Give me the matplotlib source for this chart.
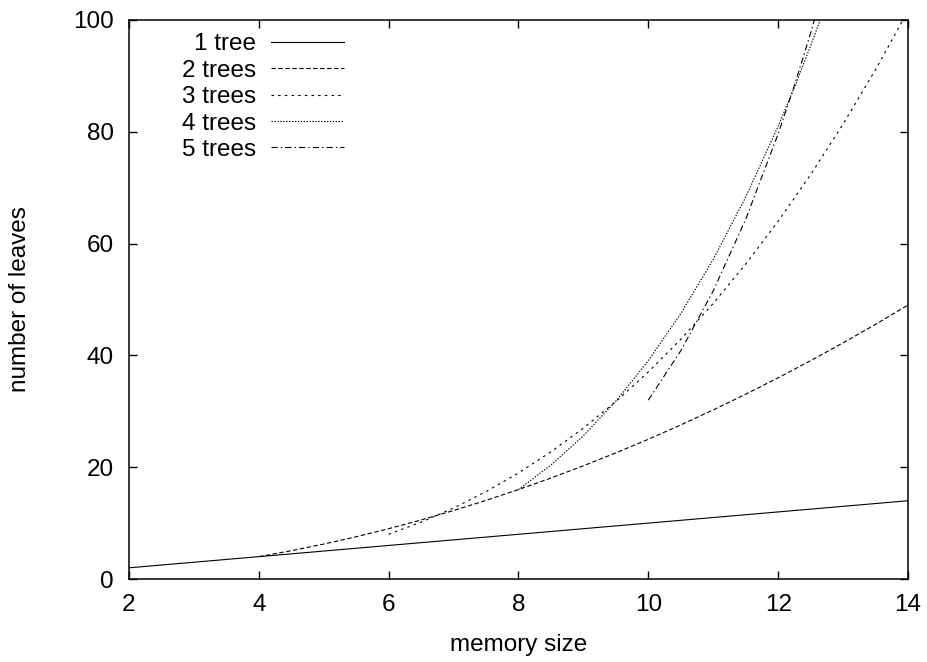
import matplotlib
matplotlib.use("Agg")
import matplotlib.pyplot as plt

plt.rcParams["font.family"] = ["Liberation Sans", "DejaVu Sans"]
plt.rcParams["lines.scale_dashes"] = False

# values
x1 = [2, 14]
y1 = [2, 14]

x2 = [4, 4.5, 5, 5.5, 6, 6.5, 7, 7.5, 8, 8.5, 9, 9.5, 10, 10.5, 11, 11.5, 12, 12.5, 13, 13.5, 14]
y2 = [4, 5.06, 6.25, 7.56, 9, 10.56, 12.25, 14.06, 16, 18.06, 20.25, 22.56, 25, 27.56,
      30.25, 33.06, 36, 39.06, 42.25, 45.56, 49]

x3 = [6, 6.5, 7, 7.5, 8, 8.5, 9, 9.5, 10, 10.5, 11, 11.5, 12, 12.5, 13, 13.5, 14]
y3 = [8, 10.17, 12.70, 15.63, 18.96, 22.75, 27, 31.75, 37.04, 42.88, 49.30, 56.33,
      64, 72.34, 81.37, 91.13, 101.63]

x4 = [8, 8.5, 9, 9.5, 10, 10.5, 11, 11.5, 12, 12.25, 12.5, 12.75, 13]
y4 = [16, 20.39, 25.63, 31.82, 39.06, 47.48, 57.19, 68.32, 81, 87.96, 95.37, 103.25, 111.57]

x5 = [10, 10.5, 11, 11.5, 12, 12.25, 12.5, 12.75, 13]
y5 = [32, 40.84, 51.54, 64.36, 79.63, 88.27, 97.66, 107.85, 118.81]

labels = ["1 tree", "2 trees", "3 trees", "4 trees", "5 trees"]
series = [(x1, y1), (x2, y2), (x3, y3), (x4, y4), (x5, y5)]
styles = ["-", (0, (3.2, 1.8)), (0, (1.8, 3.0)), (0, (1.0, 1.1)), (0, (4.5, 2.2, 1.0, 2.2))]

fs = 17.5

fig = plt.figure(figsize=(9.28, 6.62), dpi=100)
ax = fig.add_axes([129 / 928, 1 - 579 / 662, 779 / 928, 559 / 662])

for (xs, ys), lab, ls in zip(series, labels, styles):
    ax.plot(xs, ys, color="black", lw=0.8, linestyle=ls, label=lab)

ax.set_xlim(2, 14)
ax.set_ylim(0, 100)
ax.set_xticks(range(2, 15, 2))
ax.set_yticks(range(0, 101, 20))
ax.tick_params(direction="in", length=6, width=1, top=True, right=True,
               labelsize=fs, pad=11)
for sp in ax.spines.values():
    sp.set_linewidth(1.1)

ax.set_xlabel("memory size", fontsize=fs, labelpad=13)
ax.set_ylabel("number of leaves", fontsize=fs, labelpad=30)

ax.legend(loc="upper right", bbox_to_anchor=(0.293, 1.0), frameon=False,
          markerfirst=False, fontsize=fs, handlelength=3.0, handletextpad=0.6,
          labelspacing=0.18, borderaxespad=0.15)

fig.savefig("out.png", dpi=100)
